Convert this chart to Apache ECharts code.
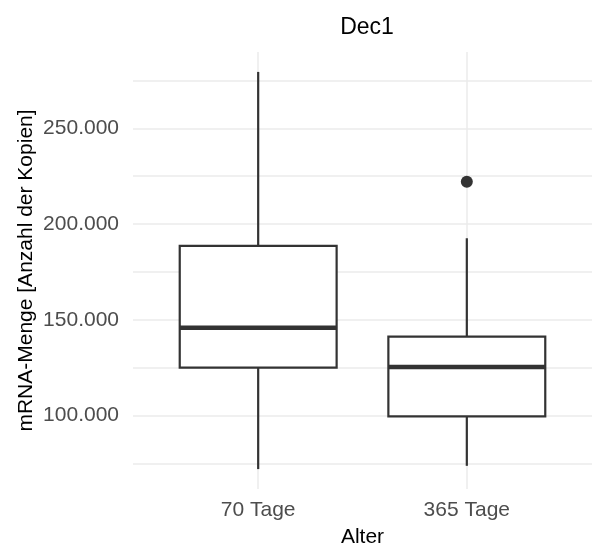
<!DOCTYPE html>
<html>
<head>
<meta charset="utf-8">
<script src="https://cdn.jsdelivr.net/npm/echarts@6/dist/echarts.min.js"></script>
<style>html,body{margin:0;padding:0;background:#fff}#c{width:594px;height:553px}</style>
</head>
<body>
<div id="c"></div>
<script>
const categories = ['70 Tage', '365 Tage'];
const whiskerLow = [72000, 73700];
const q1 = [125000, 99500];
const median = [145900, 125300];
const q3 = [188600, 141200];
const whiskerHigh = [279500, 192600];
const outlierCategory = ['365 Tage'];
const outlierValue = [222100];
const yTickLabels = [100000, 150000, 200000, 250000];
const yGridValues = [75000, 100000, 125000, 150000, 175000, 200000, 225000, 250000, 275000];

const FONT = '"Liberation Sans", Arial, sans-serif';
const chart = echarts.init(document.getElementById('c'), null, {renderer: 'canvas'});

const boxData = categories.map((c, i) => [i + 1, whiskerLow[i], q1[i], median[i], q3[i], whiskerHigh[i]]);
const outlierData = outlierCategory.map((c, i) => [categories.indexOf(c) + 1, outlierValue[i]]);

function fmt(v) {
  return String(Math.round(v)).replace(/\B(?=(\d{3})+(?!\d))/g, '.');
}

chart.setOption({
  animation: false,
  backgroundColor: '#ffffff',
  title: {
    text: 'Dec1', left: 362, top: 11, textAlign: 'center',
    textStyle: {fontFamily: FONT, fontSize: 23, fontWeight: 'normal', color: '#000'}
  },
  grid: {left: 133, right: 2, top: 52, bottom: 64, containLabel: false, outerBoundsMode: 'none'},
  xAxis: {
    type: 'value', min: 0.4, max: 2.6,
    name: 'Alter', nameLocation: 'middle', nameGap: 38, nameMoveOverlap: false,
    nameTextStyle: {fontFamily: FONT, fontSize: 21, color: '#000'},
    axisLine: {show: false},
    axisTick: {show: false, customValues: [1, 2]},
    axisLabel: {customValues: [1, 2], formatter: v => categories[Math.round(v) - 1], margin: 11,
      fontFamily: FONT, fontSize: 21, color: '#4D4D4D'},
    splitLine: {show: true, lineStyle: {color: '#EBEBEB', width: 1.5}}
  },
  yAxis: {
    type: 'value', min: 61600, max: 289900,
    name: 'mRNA-Menge [Anzahl der Kopien]', nameLocation: 'middle', nameGap: 96, nameRotate: 90,
    nameMoveOverlap: false,
    nameTextStyle: {fontFamily: FONT, fontSize: 21, color: '#000'},
    axisLine: {show: false},
    axisTick: {show: false, customValues: yGridValues},
    axisLabel: {customValues: yTickLabels, formatter: fmt, margin: 14,
      fontFamily: FONT, fontSize: 21, color: '#4D4D4D'},
    splitLine: {show: true, lineStyle: {color: '#EBEBEB', width: 1.5}}
  },
  series: [
    {
      type: 'custom',
      data: boxData,
      encode: {x: 0, y: [1, 2, 3, 4, 5]},
      renderItem: function (params, api) {
        const x = api.value(0);
        const halfW = 0.376;
        const pLow = api.coord([x, api.value(1)]);
        const pQ1 = api.coord([x, api.value(2)]);
        const pMed = api.coord([x, api.value(3)]);
        const pQ3 = api.coord([x, api.value(4)]);
        const pHigh = api.coord([x, api.value(5)]);
        const left = api.coord([x - halfW, api.value(3)])[0];
        const right = api.coord([x + halfW, api.value(3)])[0];
        const col = '#333333';
        return {
          type: 'group',
          children: [
            {type: 'line', shape: {x1: pHigh[0], y1: pHigh[1], x2: pQ3[0], y2: pQ3[1]}, style: {stroke: col, lineWidth: 2.2}},
            {type: 'line', shape: {x1: pLow[0], y1: pLow[1], x2: pQ1[0], y2: pQ1[1]}, style: {stroke: col, lineWidth: 2.2}},
            {type: 'rect', shape: {x: left, y: pQ3[1], width: right - left, height: pQ1[1] - pQ3[1]},
              style: {fill: '#ffffff', stroke: col, lineWidth: 2.2}},
            {type: 'line', shape: {x1: left, y1: pMed[1], x2: right, y2: pMed[1]}, style: {stroke: col, lineWidth: 4.5}}
          ]
        };
      }
    },
    {
      type: 'scatter',
      data: outlierData,
      symbol: 'circle', symbolSize: 12,
      itemStyle: {color: '#333333', opacity: 1}
    }
  ]
});
</script>
</body>
</html>
